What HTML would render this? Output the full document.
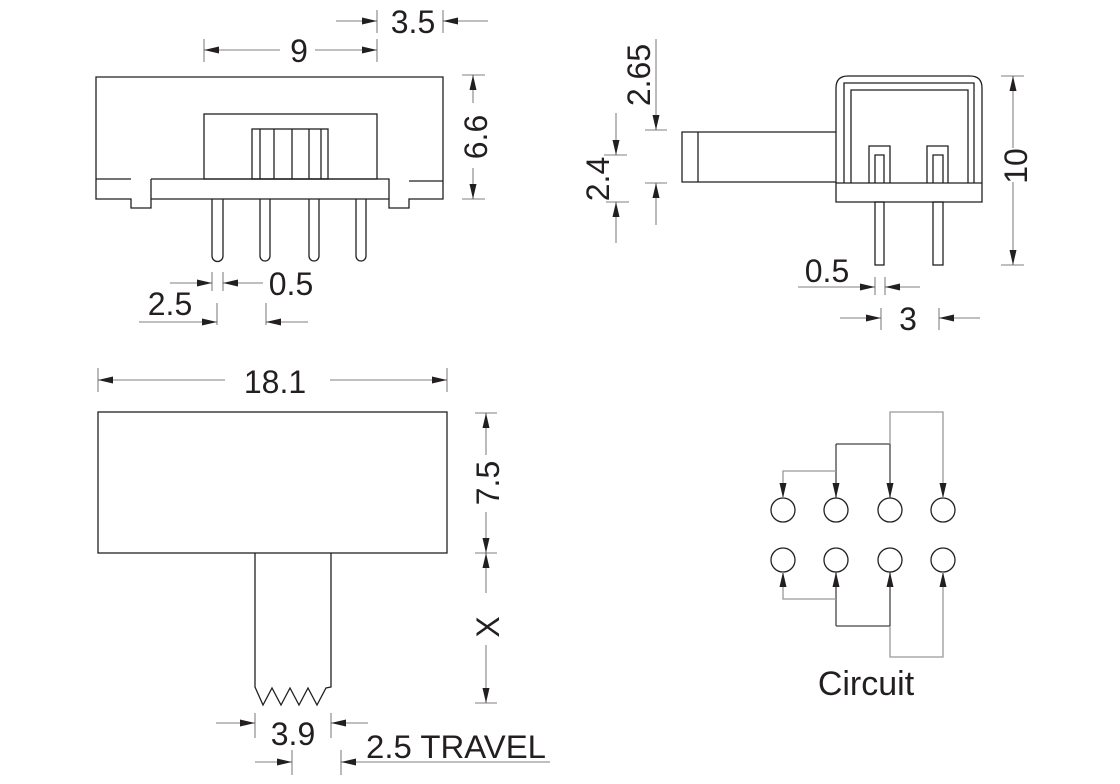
<!DOCTYPE html>
<html><head><meta charset="utf-8"><style>
html,body{margin:0;padding:0;background:#fff;}
svg{display:block;}
text{font-family:"Liberation Sans",Arial,sans-serif;fill:#231f20;}
</style></head><body>
<svg width="1120" height="784" viewBox="0 0 1120 784" xmlns="http://www.w3.org/2000/svg">
<defs>
<marker id="a" markerUnits="userSpaceOnUse" markerWidth="16" markerHeight="10" refX="15" refY="4" orient="auto">
<path d="M0,0.5 L15,4 L0,7.5 Z" fill="#231f20"/>
</marker>
</defs>
<g fill="none" stroke="#231f20" stroke-width="1.3">
<path d="M96,199 V77 H443 V199 H409 V208 H389 V199 H151 V208 H131 V199 Z"/>
<path d="M96,179 H131 M151,179 H389 V199 M151,179 V199 M409,181 H443"/>
<rect x="204" y="114" width="173" height="65"/>
<rect x="252" y="129" width="76" height="50"/>
<path d="M260,129 V179 M274,129 V179 M292,129 V179 M309,129 V179 M321,129 V179"/>
<path d="M212,199 V256 A5.5,5.5 0 0 0 223,256 V199"/>
<path d="M260,199 V256 A5,5 0 0 0 270,256 V199"/>
<path d="M309,199 V256 A5,5 0 0 0 319,256 V199"/>
<path d="M356,199 V256 A5,5 0 0 0 366,256 V199"/>
<path d="M836,202 V88 Q836,76 848,76 H970 Q982,76 982,88 V202 Z"/>
<path d="M844,183 V83 H974 V183"/>
<path d="M851,183 V90 H968 V183"/>
<path d="M836,183 H982"/>
<path d="M836,132 H682 V182 H836 M698,132 V182"/>
<path d="M869,183 V146 H890 V183 M875,183 V155 H884 V183"/>
<path d="M927,183 V146 H948 V183 M933,183 V155 H943 V183"/>
<rect x="875" y="202" width="9" height="63"/>
<rect x="933" y="202" width="10" height="63"/>
<rect x="98" y="412" width="349" height="141"/>
<path d="M255,553 V687 L263,705 L272,688 L281,705 L290,688 L299,705 L308,688 L317,705 L326,688 L331,687 V553"/>
<circle cx="783" cy="510" r="12"/><circle cx="836" cy="510" r="12"/><circle cx="890" cy="510" r="12"/><circle cx="943" cy="510" r="12"/>
<circle cx="783" cy="560" r="12"/><circle cx="836" cy="560" r="12"/><circle cx="890" cy="560" r="12"/><circle cx="943" cy="560" r="12"/>
</g>
<g fill="none" stroke-width="1.3">
<path d="M836,444 H890" stroke="#444"/>
<path d="M836,444 V498" stroke="#444" marker-end="url(#a)"/>
<path d="M890,444 V498" stroke="#444" marker-end="url(#a)"/>
<path d="M836,471 H783 V498" stroke="#999" marker-end="url(#a)"/>
<path d="M890,444 V412 H943 V498" stroke="#999" marker-end="url(#a)"/>
<path d="M836,626 H890" stroke="#444"/>
<path d="M836,626 V572" stroke="#444" marker-end="url(#a)"/>
<path d="M890,626 V572" stroke="#444" marker-end="url(#a)"/>
<path d="M836,599 H783 V572" stroke="#999" marker-end="url(#a)"/>
<path d="M890,626 V657 H943 V572" stroke="#999" marker-end="url(#a)"/>
</g>
<g fill="none" stroke="#555" stroke-width="0.8">
<path d="M204,39 V62 M377,39 V62 M377,10 V33 M443,10 V33"/>
<path d="M280,50 H204" marker-end="url(#a)"/>
<path d="M315,50 H377" marker-end="url(#a)"/>
<path d="M336,21 H377" marker-end="url(#a)"/>
<path d="M488,21 H443" marker-end="url(#a)"/>
<path d="M462,75 H485 M462,199 H485"/>
<path d="M473,103 V75" marker-end="url(#a)"/>
<path d="M473,168 V199" marker-end="url(#a)"/>
<path d="M212,272 V291 M223,272 V291 M217,303 V325 M266,303 V325"/>
<path d="M170,283 H212" marker-end="url(#a)"/>
<path d="M263,283 H223" marker-end="url(#a)"/>
<path d="M139,322 H217" marker-end="url(#a)"/>
<path d="M308,322 H266" marker-end="url(#a)"/>
<path d="M645,130 H667 M645,183 H667 M604,155 H627 M606,202 H629"/>
<path d="M656,39 V130" marker-end="url(#a)"/>
<path d="M656,225 V183" marker-end="url(#a)"/>
<path d="M616,113 V155" marker-end="url(#a)"/>
<path d="M616,243 V202" marker-end="url(#a)"/>
<path d="M1001,76 H1024 M1001,265 H1024"/>
<path d="M1013,148 V76" marker-end="url(#a)"/>
<path d="M1013,182 V265" marker-end="url(#a)"/>
<path d="M875,277 V295 M885,277 V295 M881,308 V330 M939,308 V330"/>
<path d="M798,287 H875" marker-end="url(#a)"/>
<path d="M920,287 H885" marker-end="url(#a)"/>
<path d="M840,318 H881" marker-end="url(#a)"/>
<path d="M980,318 H939" marker-end="url(#a)"/>
<path d="M98,368 V392 M447,368 V392"/>
<path d="M225,380 H98" marker-end="url(#a)"/>
<path d="M330,380 H447" marker-end="url(#a)"/>
<path d="M475,413 H497 M475,553 H497 M475,703 H497"/>
<path d="M486,455 V413" marker-end="url(#a)"/>
<path d="M486,512 V553" marker-end="url(#a)"/>
<path d="M486,593 V553" marker-end="url(#a)"/>
<path d="M486,645 V703" marker-end="url(#a)"/>
<path d="M255,713 V738 M331,713 V738 M292,750 V775 M341,750 V775"/>
<path d="M216,723 H255" marker-end="url(#a)"/>
<path d="M368,723 H331" marker-end="url(#a)"/>
<path d="M255,762 H292" marker-end="url(#a)"/>
<path d="M550,762 H341" marker-end="url(#a)"/>
</g>
<g font-size="32" text-anchor="middle">
<text x="299" y="62">9</text>
<text x="413" y="33">3.5</text>
<text x="291" y="295">0.5</text>
<text x="170" y="315">2.5</text>
<text transform="translate(487,137) rotate(-90)">6.6</text>
<text transform="translate(650,75) rotate(-90)">2.65</text>
<text transform="translate(609,179) rotate(-90)">2.4</text>
<text transform="translate(1027,166) rotate(-90)">10</text>
<text x="827" y="282">0.5</text>
<text x="908" y="330">3</text>
<text x="275" y="393">18.1</text>
<text transform="translate(499,483) rotate(-90)">7.5</text>
<text transform="translate(499,627) rotate(-90)">X</text>
<text x="293" y="745">3.9</text>
<text x="456" y="758" textLength="180" lengthAdjust="spacingAndGlyphs">2.5 TRAVEL</text>
<text x="866" y="695" font-size="34">Circuit</text>
</g>
</svg>
</body></html>
